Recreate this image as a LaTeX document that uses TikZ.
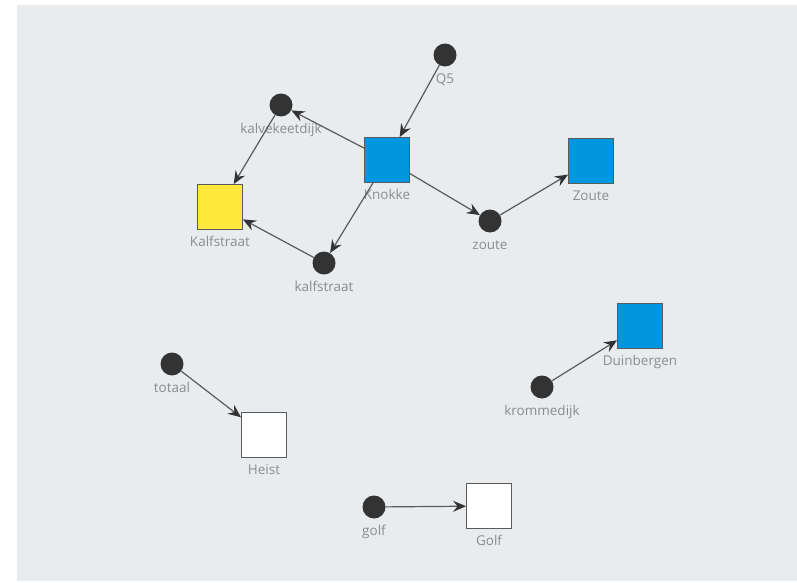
\documentclass[tikz,border=0pt]{standalone}
\usepackage{fontspec}
\setmainfont{Open Sans}
\usetikzlibrary{arrows.meta}
\definecolor{panelgray}{HTML}{E9ECEF}
\definecolor{nodeblue}{HTML}{0096E0}
\definecolor{nodeyellow}{HTML}{FFE83C}
\definecolor{dotdark}{HTML}{333333}
\definecolor{edgegray}{HTML}{5A5A5A}
\definecolor{labelgray}{HTML}{8C8C8C}
\tikzset{
  lbl/.style={font=\fontsize{13.5}{15}\selectfont, text=labelgray, inner sep=0pt,
              text height=9pt, text depth=3pt},
  place/.style={rectangle, draw=edgegray, line width=0.9pt, minimum size=45pt,
                inner sep=0pt, label={[lbl, label distance=7.5pt]below:#1}},
  bluebox/.style={place=#1, fill=nodeblue},
  yellowbox/.style={place=#1, fill=nodeyellow},
  whitebox/.style={place=#1, fill=white},
  dot/.style={circle, fill=dotdark, minimum size=23pt, inner sep=0pt,
              label={[lbl, label distance=7.5pt]below:#1}},
  link/.style={draw=edgegray, line width=1.2pt,
               -{Stealth[length=13pt, width=11pt, inset=4.5pt, color=dotdark]}}
}
\begin{document}
\begin{tikzpicture}[x=1pt, y=-1pt]
  % canvas
  \useasboundingbox (0,0) rectangle (797,583);
  \fill[white] (0,0) rectangle (797,583);
  \fill[panelgray] (17,5) rectangle (797,581);

  % places
  \node[bluebox=Knokke]       (knokke)     at (387,160) {};
  \node[bluebox=Zoute]        (zouteP)     at (591,161) {};
  \node[bluebox=Duinbergen]   (duinbergen) at (640,326) {};
  \node[yellowbox=Kalfstraat] (kalfP)      at (220,207) {};
  \node[whitebox=Heist]       (heist)      at (264,435) {};
  \node[whitebox=Golf]        (golfP)      at (489,506) {};

  % transitions
  \node[dot=kalvekeetdijk] (kalvekeetdijk) at (281,105) {};
  \node[dot=Q5]            (q5)            at (445,55)  {};
  \node[dot=kalfstraat]    (kalfT)         at (324,263) {};
  \node[dot=zoute]         (zouteT)        at (490,221) {};
  \node[dot=krommedijk]    (krommedijk)    at (542,387) {};
  \node[dot=totaal]        (totaal)        at (172,364) {};
  \node[dot=golf]          (golfT)         at (374,507) {};

  % arcs
  \path[link] (knokke) -- (kalvekeetdijk);
  \path[link] (kalvekeetdijk) -- (kalfP);
  \path[link] (knokke) -- (kalfT);
  \path[link] (kalfT) -- (kalfP);
  \path[link] (q5) -- (knokke);
  \path[link] (knokke) -- (zouteT);
  \path[link] (zouteT) -- (zouteP);
  \path[link] (totaal) -- (heist);
  \path[link] (krommedijk) -- (duinbergen);
  \path[link] (golfT) -- (golfP);
\end{tikzpicture}
\end{document}
